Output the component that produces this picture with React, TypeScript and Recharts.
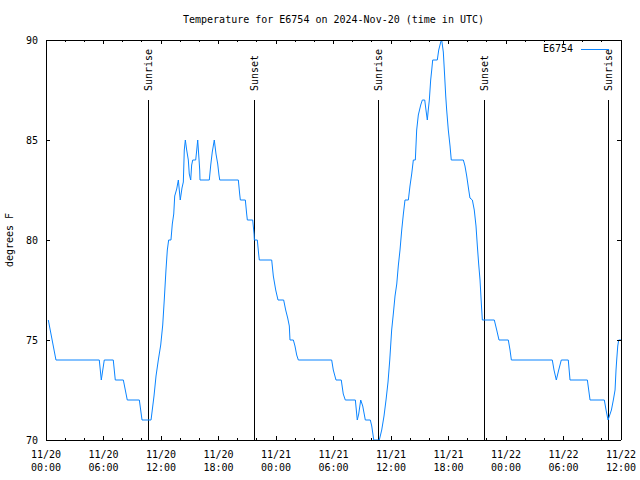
import React from 'react';
import { LineChart, Line, XAxis, YAxis, ReferenceLine, Legend } from 'recharts';

// Time in hours since 11/20 00:00 UTC, and temperature in degrees F
const hours = [
  0.24, 1.04, 5.56, 5.77, 6.08, 7.02, 7.23, 8.07, 8.48, 9.74, 10.02, 10.96,
  11.27, 11.48, 11.72, 11.97, 12.18, 12.34, 12.52, 12.66, 12.8, 13.04, 13.18, 13.33,
  13.43, 13.64, 13.81, 14.01, 14.19, 14.33, 14.43, 14.54, 14.68, 14.85, 14.95, 15.1,
  15.2, 15.31, 15.62, 15.73, 15.83, 15.93, 16.04, 16.07, 17.04, 17.19, 17.35, 17.56,
  17.74, 17.92, 18.05, 18.13, 20.07, 20.21, 20.28, 20.8, 20.94, 21.01, 21.57, 21.71,
  21.74, 22.05, 22.2, 22.26, 23.55, 23.72, 23.97, 24.21, 24.8, 25.01, 25.22, 25.39,
  25.46, 25.81, 25.98, 26.16, 26.33, 29.81, 29.98, 30.26, 30.81, 31.02, 31.23, 32.28,
  32.48, 32.63, 32.84, 33.05, 33.32, 33.84, 33.99, 34.2, 34.78, 35.03, 35.27, 35.48,
  35.69, 35.87, 36.07, 36.24, 36.42, 36.6, 36.76, 36.94, 37.12, 37.29, 37.46, 37.81,
  37.98, 38.16, 38.33, 38.54, 38.68, 38.85, 39.1, 39.27, 39.52, 39.65, 39.79, 39.89,
  40.0, 40.14, 40.25, 40.35, 40.83, 40.98, 41.19, 41.29, 41.46, 41.6, 41.71, 41.81,
  41.98, 42.16, 42.29, 43.55, 43.72, 43.9, 44.11, 44.24, 44.49, 44.69, 44.87, 45.01,
  45.15, 45.29, 45.43, 45.53, 46.78, 47.03, 47.27, 48.24, 48.42, 48.56, 52.83, 53.01,
  53.25, 53.5, 53.77, 54.5, 54.68, 56.49, 56.77, 58.26, 58.44, 58.65, 58.79, 59.0,
  59.2, 59.38, 59.48, 59.55, 59.66, 59.76, 60.0,
];
const temps = [
  76, 74, 74, 73, 74, 74, 73, 73, 72, 72, 71, 71,
  72.2, 73.2, 74, 74.75, 75.75, 77, 78.5, 79.5, 80, 80, 80.8, 81.3,
  82.2, 82.55, 83, 82, 82.6, 82.9, 84.5, 85, 84.5, 84, 83.3, 83,
  83.75, 84, 84, 84.5, 85, 84.3, 83.5, 83, 83, 83.75, 84.4, 85,
  84.3, 83.8, 83.25, 83, 83, 82.3, 82, 82, 81.3, 81, 81, 80.3,
  80, 80, 79.25, 79, 79, 78.2, 77.5, 77, 77, 76.5, 76.1, 75.7,
  75, 75, 74.7, 74.25, 74, 74, 73.5, 73, 73, 72.3, 72, 72,
  71, 71.3, 72, 71.7, 71, 71, 70.7, 70, 70, 70.5, 71.2, 72,
  72.9, 74, 75.5, 76.3, 77.2, 77.8, 78.7, 79.5, 80.5, 81.3, 82, 82,
  82.7, 83.3, 84, 84, 85.5, 86.25, 86.75, 87, 87, 86.5, 86, 86.5,
  87, 88, 88.5, 89, 89, 89.5, 89.9, 90, 89.4, 88.2, 87.2, 86.5,
  85.5, 84.7, 84, 84, 83.7, 83.2, 82.5, 82.1, 82, 81.5, 80.7, 79.7,
  78.8, 78, 76.8, 76, 76, 75.5, 75, 75, 74.5, 74, 74, 73.5,
  73, 73.5, 74, 74, 73, 73, 72, 72, 71.5, 71, 71.2, 71.5,
  72, 72.5, 73.5, 74, 74.7, 75, 75,
];

const majorTickHours = [0, 6, 12, 18, 24, 30, 36, 42, 48, 54, 60];
const majorTickDates = ['11/20', '11/20', '11/20', '11/20', '11/21', '11/21', '11/21', '11/21', '11/22', '11/22', '11/22'];
const majorTickTimes = ['00:00', '06:00', '12:00', '18:00', '00:00', '06:00', '12:00', '18:00', '00:00', '06:00', '12:00'];
const minorTickHours = [0, 2, 4, 6, 8, 10, 12, 14, 16, 18, 20, 22, 24, 26, 28, 30, 32, 34, 36, 38, 40, 42, 44, 46, 48, 50, 52, 54, 56, 58, 60];
const yTicks = [70, 75, 80, 85, 90];

const sunHours = [10.72, 21.74, 34.73, 45.74, 58.73];
const sunLabels = ['Sunrise', 'Sunset', 'Sunrise', 'Sunset', 'Sunrise'];
const sunLineTop = 87;

const seriesName = 'E6754';
const titleText = 'Temperature for E6754 on 2024-Nov-20 (time in UTC)';
const yLabelText = 'degrees F';

const data = hours.map((h, i) => ({ h, temp: temps[i] }));

const FONT = '"DejaVu Sans Mono", "Liberation Mono", monospace';
const LINE_COLOR = '#0a84ff';

const BottomTick = (props: any) => {
  const { x, y, payload } = props;
  const idx = majorTickHours.indexOf(payload.value);
  const major = idx >= 0;
  return (
    <g>
      <line x1={x} x2={x} y1={y} y2={y - (major ? 4 : 2)} stroke="#000" shapeRendering="crispEdges" />
      {major && (
        <>
          <text x={x} y={y + 18} textAnchor="middle" fontFamily={FONT} fontSize={10} fill="#000">{majorTickDates[idx]}</text>
          <text x={x} y={y + 31} textAnchor="middle" fontFamily={FONT} fontSize={10} fill="#000">{majorTickTimes[idx]}</text>
        </>
      )}
    </g>
  );
};

const TopTick = (props: any) => {
  const { x, y, payload } = props;
  const major = majorTickHours.indexOf(payload.value) >= 0;
  return <line x1={x} x2={x} y1={y} y2={y + (major ? 4 : 2)} stroke="#000" shapeRendering="crispEdges" />;
};

const LeftTick = (props: any) => {
  const { x, y, payload } = props;
  return (
    <g>
      <line x1={x} x2={x + 4} y1={y} y2={y} stroke="#000" shapeRendering="crispEdges" />
      <text x={x - 8} y={y + 4} textAnchor="end" fontFamily={FONT} fontSize={10} fill="#000">{payload.value}</text>
    </g>
  );
};

const RightTick = (props: any) => {
  const { x, y } = props;
  return <line x1={x} x2={x - 4} y1={y} y2={y} stroke="#000" shapeRendering="crispEdges" />;
};

const SunLabel = (text: string) => (props: any) => {
  const vb = props.viewBox || {};
  const x = vb.x ?? 0;
  const y = vb.y ?? 0;
  return (
    <text transform={`translate(${x + 3.5},${y - 9}) rotate(-90)`} textAnchor="start" fontFamily={FONT} fontSize={10} fill="#000">
      {text}
    </text>
  );
};

const LegendContent = () => (
  <svg width={80} height={14} style={{ display: 'block' }}>
    <text x={33} y={10} textAnchor="end" fontFamily={FONT} fontSize={10} fill="#000">{seriesName}</text>
    <line x1={41} x2={69} y1={7} y2={7} stroke={LINE_COLOR} shapeRendering="crispEdges" />
  </svg>
);

export default function App() {
  return (
    <div style={{ position: 'absolute', left: 0, top: 0, width: 640, height: 480, background: '#fff' }}>
      <LineChart width={640} height={480} data={data} margin={{ top: 0, right: 0, bottom: 0, left: 0 }}>
        <text x={333.5} y={23} textAnchor="middle" fontFamily={FONT} fontSize={10} fill="#000">{titleText}</text>
        <text transform="translate(13,240) rotate(-90)" textAnchor="middle" fontFamily={FONT} fontSize={10} fill="#000">{yLabelText}</text>
        <XAxis
          dataKey="h"
          type="number"
          domain={[0, 60]}
          allowDataOverflow
          ticks={minorTickHours}
          interval={0}
          height={40}
          tickSize={0}
          tickMargin={0}
          tickLine={false}
          axisLine={{ stroke: '#000', shapeRendering: 'crispEdges' }}
          tick={(p: any) => <BottomTick {...p} />}
        />
        <XAxis
          xAxisId="top"
          orientation="top"
          dataKey="h"
          type="number"
          domain={[0, 60]}
          allowDataOverflow
          ticks={minorTickHours}
          interval={0}
          height={40}
          tickSize={0}
          tickMargin={0}
          tickLine={false}
          axisLine={{ stroke: '#000', shapeRendering: 'crispEdges' }}
          tick={(p: any) => <TopTick {...p} />}
        />
        <YAxis
          type="number"
          domain={[70, 90]}
          allowDataOverflow
          ticks={yTicks}
          interval={0}
          width={46}
          tickSize={0}
          tickMargin={0}
          tickLine={false}
          axisLine={{ stroke: '#000', shapeRendering: 'crispEdges' }}
          tick={(p: any) => <LeftTick {...p} />}
        />
        <YAxis
          yAxisId="right"
          orientation="right"
          type="number"
          domain={[70, 90]}
          allowDataOverflow
          ticks={yTicks}
          interval={0}
          width={19}
          tickSize={0}
          tickMargin={0}
          tickLine={false}
          axisLine={{ stroke: '#000', shapeRendering: 'crispEdges' }}
          tick={(p: any) => <RightTick {...p} />}
        />
        {sunHours.map((h, i) => (
          <ReferenceLine
            key={i}
            segment={[{ x: h, y: 70 }, { x: h, y: sunLineTop }]}
            stroke="#000"
            strokeWidth={1}
            shapeRendering="crispEdges"
            label={SunLabel(sunLabels[i])}
          />
        ))}
        <Legend
          layout="horizontal"
          verticalAlign="middle"
          align="center"
          content={() => <LegendContent />}
          wrapperStyle={{ position: 'absolute', left: 540, top: 42, width: 80, height: 14, margin: 0, padding: 0 }}
        />
        <Line
          type="linear"
          dataKey="temp"
          name={seriesName}
          stroke={LINE_COLOR}
          strokeWidth={1}
          dot={false}
          activeDot={false}
          isAnimationActive={false}
        />
      </LineChart>
    </div>
  );
}
